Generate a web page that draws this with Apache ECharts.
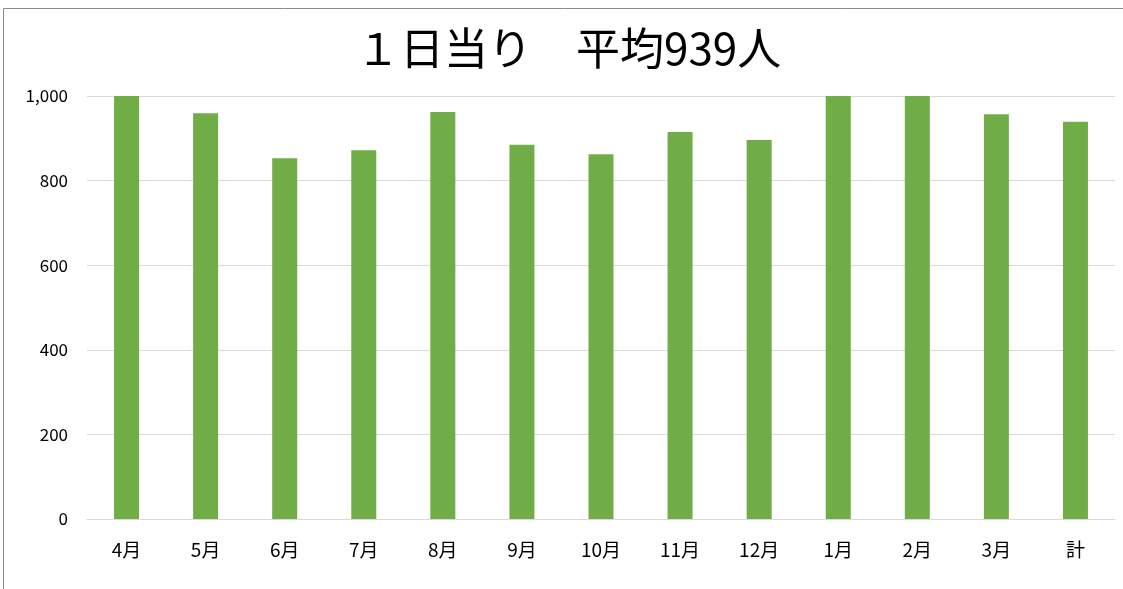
<!DOCTYPE html>
<html>
<head>
<meta charset="utf-8">
<script src="https://cdn.jsdelivr.net/npm/echarts@6/dist/echarts.min.js"></script>
<style>html,body{margin:0;padding:0;background:#fff;}#c{width:1123px;height:589px;}</style>
</head>
<body>
<div id="c"></div>
<script>
const titleText = '１日当り　平均939人';
const categories = ['4月','5月','6月','7月','8月','9月','10月','11月','12月','1月','2月','3月','計'];
const values = [1000, 959, 853, 872, 962, 885, 862, 915, 896, 1000, 1000, 957, 939];
const yTicks = { min: 0, max: 1000, interval: 200 };

const chart = echarts.init(document.getElementById('c'), null, { renderer: 'canvas' });
chart.setOption({
  animation: false,
  backgroundColor: '#fff',
  graphic: [
    { type: 'rect', shape: { x: 3.5, y: 8.5, width: 1130, height: 600 }, style: { fill: 'none', stroke: '#8c8c8c', lineWidth: 1 }, z: 100 },
    { type: 'text', left: 356, top: 26, style: { text: titleText, font: '44px "Noto Sans CJK JP"', fill: '#000' } }
  ],
  grid: { left: 87, right: 8, top: 96, bottom: 70, containLabel: false },
  xAxis: {
    type: 'category',
    data: categories,
    axisLine: { show: true, lineStyle: { color: '#d9d9d9', width: 1 } },
    axisTick: { show: false },
    axisLabel: { color: '#000', fontSize: 19, fontFamily: 'Noto Sans CJK JP', margin: 21 }
  },
  yAxis: {
    type: 'value',
    min: yTicks.min, max: yTicks.max, interval: yTicks.interval,
    axisLine: { show: false },
    axisTick: { show: false },
    splitLine: { lineStyle: { color: '#d9d9d9', width: 1 } },
    axisLabel: {
      color: '#000', fontSize: 17, fontFamily: 'Noto Sans CJK JP', margin: 19,
      formatter: v => v.toLocaleString('en-US')
    }
  },
  series: [{
    type: 'bar',
    data: values,
    barWidth: 25,
    itemStyle: { color: '#70AD47' }
  }]
});
</script>
</body>
</html>
